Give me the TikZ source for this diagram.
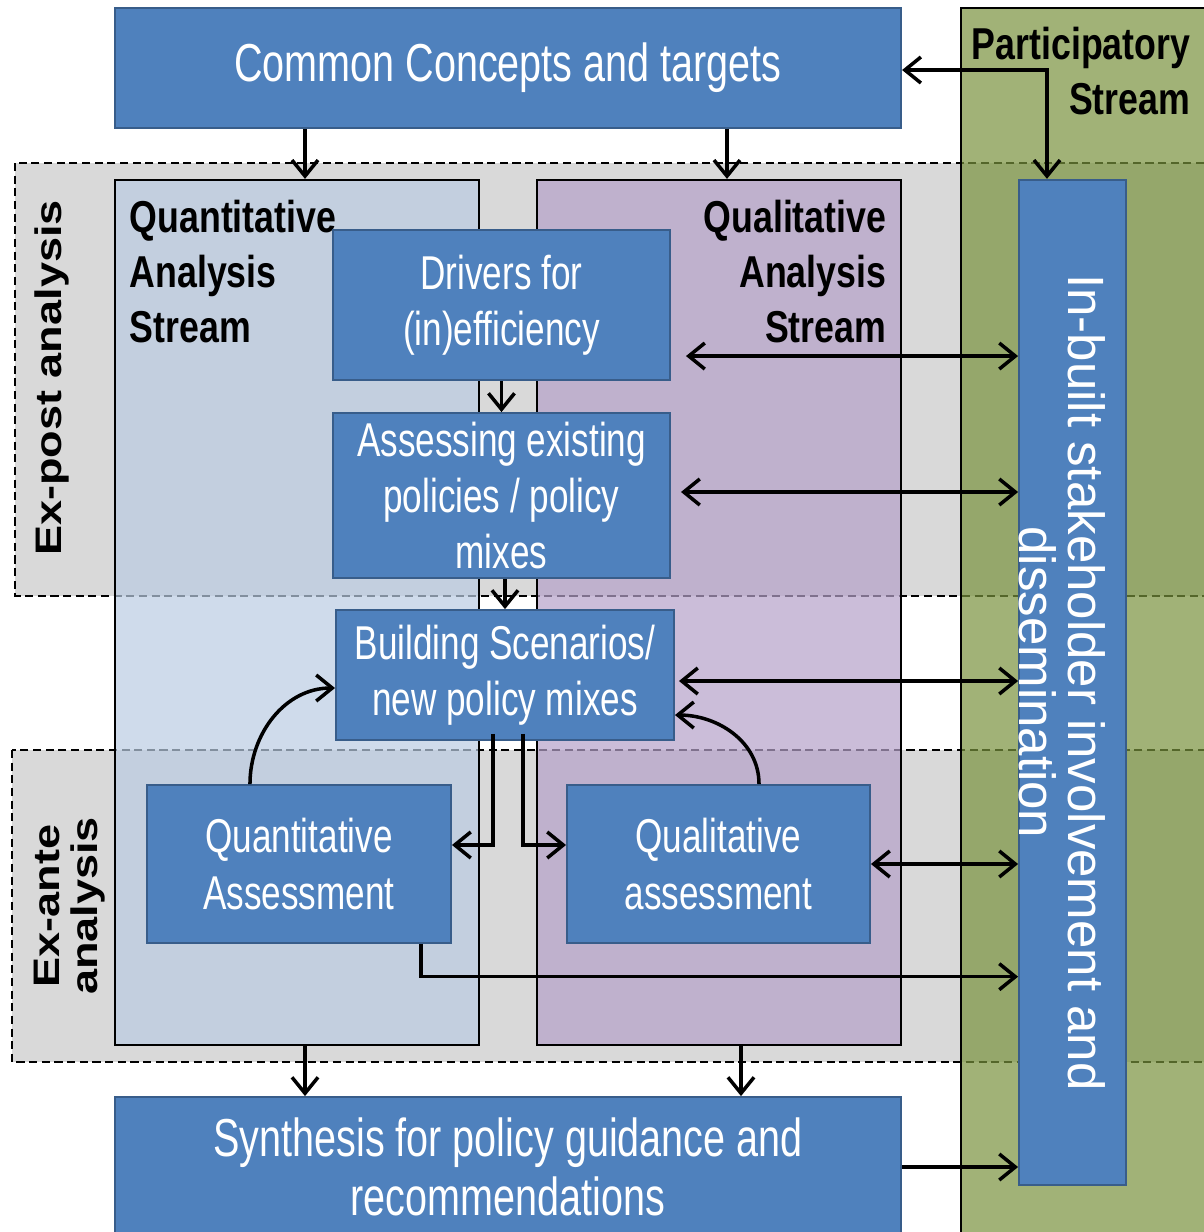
\documentclass[tikz,border=0pt]{standalone}
\usepackage{fontspec}
\setmainfont{Liberation Sans}
\newfontfamily\narrowfont[FakeStretch=0.74]{Liberation Sans}
\newfontfamily\labelfont[FakeStretch=0.8]{Liberation Sans}
\newfontfamily\tallfont[FakeStretch=1.22]{Liberation Sans}
\usetikzlibrary{arrows.meta}

\definecolor{boxblue}{RGB}{79,129,189}
\definecolor{boxedge}{RGB}{56,93,138}
\definecolor{bandgrey}{RGB}{217,217,217}
\definecolor{quantblue}{RGB}{186,204,226}
\definecolor{qualpurple}{RGB}{181,161,201}
\definecolor{partgreen}{RGB}{121,146,61}

\tikzset{
  bluebox/.style={draw=boxedge, line width=0.5pt, fill=boxblue, text=white, align=center, inner sep=0pt,
    font=\narrowfont\fontsize{13.5}{16}\selectfont},
  widebox/.style={bluebox, font=\narrowfont\fontsize{15.2}{16.8}\selectfont},
  band/.style={draw, fill=bandgrey, line width=0.5pt, dash pattern=on 2.3pt off 1.3pt},
  streambox/.style={draw, line width=0.5pt, fill opacity=0.7, inner sep=0pt, minimum width=3.64cm, minimum height=8.65cm},
  headlabel/.style={inner sep=0pt, font=\labelfont\bfseries\fontsize{12.7}{15.7}\selectfont},
  phaselabel/.style={inner sep=0pt, rotate=90, align=center, font=\tallfont\bfseries\fontsize{10.5}{10.8}\selectfont},
  flow/.style={line width=1pt, -{Straight Barb[length=1.6mm,width=2.6mm]}},
  twoway/.style={line width=1pt, {Straight Barb[length=1.6mm,width=2.6mm]}-{Straight Barb[length=1.6mm,width=2.6mm]}},
}

\begin{document}
\begin{tikzpicture}[x=0.01cm, y=-0.01cm]
  \useasboundingbox (0,0) rectangle (1204,1232);
  \clip (0,0) rectangle (1204,1232);

  % ex-post / ex-ante bands
  \draw[band] (15,163) rectangle (1240,596);
  \draw[band] (12,750) rectangle (1240,1062);

  % participatory stream
  \fill[partgreen, fill opacity=0.7] (961,8) rectangle (1240,1250);
  \draw[line width=0.5pt] (961,1250) |- (1240,8);

  % analysis streams
  \node[streambox, fill=quantblue] (quant) at (297,612.5) {};
  \node[streambox, fill=qualpurple] (qual) at (719,612.5) {};

  \node[headlabel, anchor=north west, align=left] (quanthead) at (129,199) {Quantitative\\Analysis\\Stream};
  \node[headlabel, anchor=north east, align=right] (qualhead) at (887,199) {Qualitative\\Analysis\\Stream};
  \node[headlabel, anchor=north east, align=right] (parthead) at (1191,26) {Participatory\\Stream};
  \node[phaselabel] (expost) at (52,378) {Ex-post analysis};
  \node[phaselabel] (exante) at (70,906) {Ex-ante\\analysis};

  % boxes
  \node[widebox, minimum width=7.86cm, minimum height=1.2cm] (common) at (508,68) {\raisebox{-3pt}{Common Concepts and targets}};
  \node[bluebox, minimum width=3.37cm, minimum height=1.5cm] (drivers) at (501.5,305) {\raisebox{-4pt}{Drivers for}\\\raisebox{-4pt}{(in)efficiency}};
  \node[bluebox, minimum width=3.37cm, minimum height=1.65cm] (assess) at (501.5,495.5) {Assessing existing\\policies / policy\\mixes};
  \node[bluebox, minimum width=3.38cm, minimum height=1.3cm] (build) at (505,675) {Building Scenarios/\\new policy mixes};
  \node[bluebox, minimum width=3.04cm, minimum height=1.58cm] (quantA) at (299,864) {Quantitative\\Assessment};
  \node[bluebox, minimum width=3.03cm, minimum height=1.58cm] (qualA) at (718.5,864) {Qualitative\\assessment};
  \node[widebox, minimum width=7.86cm, minimum height=1.4cm] (synth) at (508,1167) {Synthesis for policy guidance and\\recommendations};
  \node[bluebox, minimum width=1.07cm, minimum height=10.05cm] (inbuilt) at (1072.5,682.5) {};
  \node[rotate=-90, text=white, align=center, inner sep=0pt, font=\fontsize{14.5}{14}\selectfont] (inbuilttext) at (1062,682.5) {In-built stakeholder involvement and\\dissemination};

  % connectors
  \coordinate (quanttop) at ([xshift=0.08cm]quant.north);
  \coordinate (qualtop) at ([xshift=0.08cm]qual.north);
  \draw[flow] (common.south -| quanttop) -- (quanttop);
  \draw[flow] (common.south -| qualtop) -- (qualtop);
  \coordinate (partin) at ([xshift=-0.255cm]inbuilt.north);
  \draw[twoway] ([yshift=-0.02cm]common.east) -| (partin);

  \coordinate (drvout) at ([xshift=0.15cm,yshift=-0.51cm]drivers.east);
  \draw[twoway] (drvout) -- (drvout -| inbuilt.west);
  \coordinate (assout) at ([xshift=0.1cm,yshift=0.035cm]assess.east);
  \draw[twoway] (assout) -- (assout -| inbuilt.west);
  \coordinate (bldout) at ([xshift=0.04cm,yshift=-0.06cm]build.east);
  \draw[twoway] (bldout) -- (bldout -| inbuilt.west);
  \draw[twoway] (qualA.east) -- (qualA.east -| inbuilt.west);
  \coordinate (qaout) at ([xshift=-0.31cm]quantA.south east);
  \coordinate (qaend) at ([yshift=-2.94cm]inbuilt.west);
  \draw[flow] (qaout) |- (qaend);
  \draw[flow] (synth.east) -- (synth.east -| inbuilt.west);

  \draw[flow] (drivers.south) -- (assess.north);
  \draw[flow] (build.north |- assess.south) -- (build.north);
  \coordinate (bldleft) at ([xshift=-0.12cm,yshift=0.07cm]build.south);
  \coordinate (qain) at ([yshift=0.19cm]quantA.east);
  \draw[flow] (bldleft) |- (qain);
  \coordinate (bldright) at ([xshift=0.18cm,yshift=0.07cm]build.south);
  \coordinate (qlin) at ([yshift=0.19cm]qualA.west);
  \draw[flow] (bldright) |- (qlin);

  \coordinate (qaup) at ([xshift=-0.49cm]quantA.north);
  \coordinate (bldin) at ([yshift=-0.13cm]build.west);
  \draw[flow] (qaup) to[out=90,in=180] (bldin);
  \coordinate (qlup) at ([xshift=0.405cm]qualA.north);
  \coordinate (bldin2) at ([yshift=-0.4cm]build.east);
  \draw[flow] (qlup) to[out=90,in=0] (bldin2);

  \coordinate (quantbot) at ([xshift=0.08cm]quant.south);
  \coordinate (qualbot) at ([xshift=0.22cm]qual.south);
  \draw[flow] (quantbot) -- (quantbot |- synth.north);
  \draw[flow] (qualbot) -- (qualbot |- synth.north);
\end{tikzpicture}
\end{document}
